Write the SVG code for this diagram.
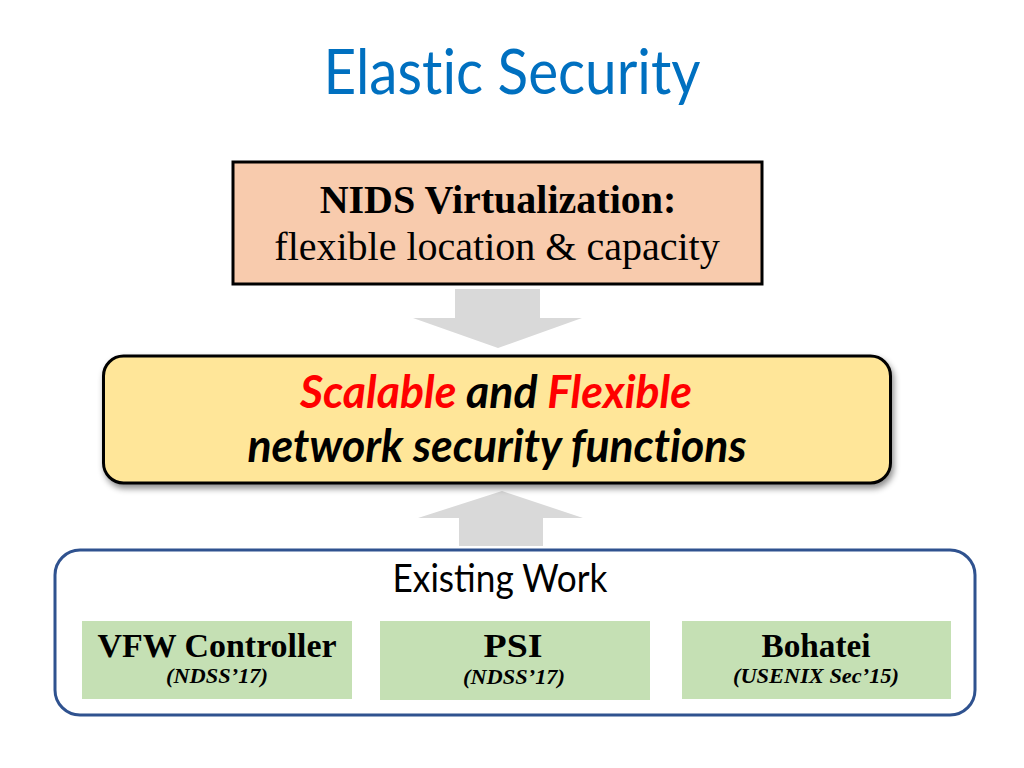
<svg xmlns="http://www.w3.org/2000/svg" width="1024" height="768" viewBox="0 0 1024 768">
<style>
.title{font-family:Lato,"Open Sans",sans-serif;font-size:61px;fill:#0070C0;font-variant-ligatures:none}
.serif{font-family:"Liberation Serif","Times New Roman",serif;fill:#000}
.calb{font-family:Lato,"Open Sans",sans-serif;font-weight:bold;font-style:italic;font-size:45px;fill:#000;font-variant-ligatures:none}
.red{fill:#FF0000}
.green{fill:#C5E0B4}
.arrow{fill:#D9D9D9}
.h{font-size:33px;font-weight:bold}
.sub{font-size:22px;font-weight:bold;font-style:italic}
</style>
<defs>
<filter id="shadow" x="-5%" y="-10%" width="110%" height="130%">
<feDropShadow dx="2" dy="4" stdDeviation="3" flood-color="#000" flood-opacity="0.45"/>
</filter>
</defs>
<rect width="1024" height="768" fill="#fff"/>
<text class="title" x="512" y="94" text-anchor="middle" textLength="377" lengthAdjust="spacingAndGlyphs">Elastic Security</text>

<g id="connectors">
<polygon class="arrow" points="455,289 540,289 540,318 582,318 498,348 413,318 455,318"/>
<polygon class="arrow" points="502,491 583,518 543,518 543,546 459,546 459,518 418,518"/>
</g>

<g id="nids">
<rect x="233" y="162" width="529" height="122" fill="#F8CBAD" stroke="#000" stroke-width="3"/>
<text class="serif" x="498" y="213" text-anchor="middle" font-size="40" font-weight="bold">NIDS Virtualization:</text>
<text class="serif" x="497" y="260" text-anchor="middle" font-size="40">flexible location &amp; capacity</text>
</g>

<g id="goal">
<rect x="103.5" y="356" width="787" height="127" rx="20" fill="#FFE699" stroke="#000" stroke-width="3" filter="url(#shadow)"/>
<text class="calb" x="496" y="408" text-anchor="middle" textLength="392" lengthAdjust="spacingAndGlyphs"><tspan class="red">Scalable</tspan> and <tspan class="red">Flexible</tspan></text>
<text class="calb" x="497" y="462" text-anchor="middle" textLength="499" lengthAdjust="spacingAndGlyphs">network security functions</text>
</g>

<g id="existing">
<rect x="55" y="550" width="920" height="165" rx="25" fill="#fff" stroke="#2F528F" stroke-width="3"/>
<text x="500" y="592" text-anchor="middle" font-family="Lato,'Open Sans',sans-serif" font-size="39" fill="#000" textLength="215" lengthAdjust="spacingAndGlyphs">Existing Work</text>
</g>

<g id="vfw">
<rect class="green" x="82" y="621" width="270" height="78"/>
<text class="serif h" x="217" y="657" text-anchor="middle" textLength="239" lengthAdjust="spacingAndGlyphs">VFW Controller</text>
<text class="serif sub" x="217" y="683" text-anchor="middle" textLength="102" lengthAdjust="spacingAndGlyphs">(NDSS’17)</text>
</g>

<g id="psi">
<rect class="green" x="380" y="621" width="270" height="79"/>
<text class="serif h" x="513" y="657" text-anchor="middle" textLength="59" lengthAdjust="spacingAndGlyphs">PSI</text>
<text class="serif sub" x="514" y="684" text-anchor="middle" textLength="102" lengthAdjust="spacingAndGlyphs">(NDSS’17)</text>
</g>

<g id="bohatei">
<rect class="green" x="682" y="621" width="269" height="78"/>
<text class="serif h" x="816" y="657" text-anchor="middle" textLength="109" lengthAdjust="spacingAndGlyphs">Bohatei</text>
<text class="serif sub" x="816" y="683" text-anchor="middle" textLength="166" lengthAdjust="spacingAndGlyphs">(USENIX Sec’15)</text>
</g>
</svg>
